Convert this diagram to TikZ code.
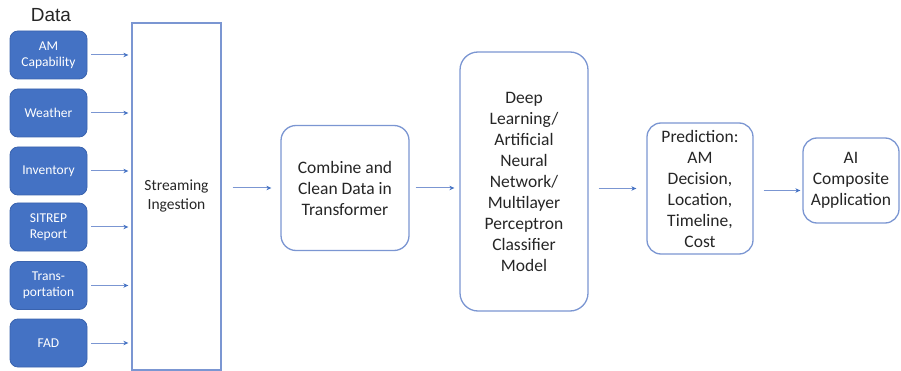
\documentclass[tikz,border=0pt]{standalone}
\usepackage{fontspec}
\setmainfont{Carlito}
\newfontfamily\datafont{Liberation Sans}
\usetikzlibrary{arrows.meta}
\definecolor{obl}{HTML}{4472C4}
\definecolor{obline}{HTML}{7B96D2}
\definecolor{obd}{HTML}{3A63AE}
\definecolor{txt}{HTML}{262626}
\tikzset{
  src/.style={draw=obd, line width=0.8pt, fill=obl, rounded corners=8pt, minimum width=77pt, minimum height=48pt, inner sep=0pt, text=white, align=center, font=\fontsize{13.5}{16}\selectfont},
  wbox/.style={draw=obline, line width=1.3pt, fill=white, rounded corners=15pt, inner sep=0pt, text=txt, align=center, font=\fontsize{17.5}{21}\selectfont},
  arr/.style={draw=obline, line width=1pt, -{Stealth[length=5pt,width=4.5pt,color=obl,fill=obl]}}
}
\begin{document}
\begin{tikzpicture}[x=1pt,y=-1pt]
\useasboundingbox (0,0) rectangle (901,371);
\node[text=txt, font=\datafont\fontsize{19}{22}\selectfont] (data) at (51,15) {Data};
\node[src] (s1) at (48.5,55) {AM\\Capability};
\node[src] (s2) at (48.5,113) {Weather};
\node[src] (s3) at (48.5,171) {Inventory};
\node[src] (s4) at (48.5,227) {SITREP\\Report};
\node[src] (s5) at (48.5,285.5) {Trans-\\portation};
\node[src] (s6) at (48.5,343) {FAD};
\node[draw=obline, line width=1.3pt, minimum width=89pt, minimum height=347pt, inner sep=0pt, text=txt, align=center, font=\fontsize{15.5}{19}\selectfont] (ing) at (176.5,196.5) {Streaming\\Ingestion};
\node[wbox, minimum width=128pt, minimum height=125pt] (comb) at (345,188) {Combine and\\Clean Data in\\Transformer};
\node[wbox, rounded corners=18pt, minimum width=128pt, minimum height=259pt] (dl) at (524,181.5) {Deep\\Learning/\\Artificial\\Neural\\Network/\\Multilayer\\Perceptron\\Classifier\\Model};
\node[wbox, rounded corners=14pt, minimum width=106pt, minimum height=131pt] (pred) at (700,188.5) {Prediction:\\AM\\Decision,\\Location,\\Timeline,\\Cost};
\node[wbox, rounded corners=14pt, minimum width=96pt, minimum height=85pt] (ai) at (851,180.5) {AI\\Composite\\Application};
\foreach \s in {s1,s2,s3,s4,s5,s6}{
  \draw[arr, shorten <=4pt, shorten >=3pt] (\s.east) -- (\s.east -| ing.west);
}
\draw[arr, shorten <=11pt, shorten >=9pt] (ing.east |- comb.west) -- (comb.west);
\draw[arr, shorten <=6pt, shorten >=5pt] (comb.east) -- (comb.east -| dl.west);
\draw[arr, shorten <=10pt, shorten >=10pt] (dl.east |- pred.west) -- (pred.west);
\draw[arr, shorten <=10pt, shorten >=2pt] ([yshift=-2pt]pred.east) -- ([yshift=-2pt]pred.east -| ai.west);
\end{tikzpicture}
\end{document}
